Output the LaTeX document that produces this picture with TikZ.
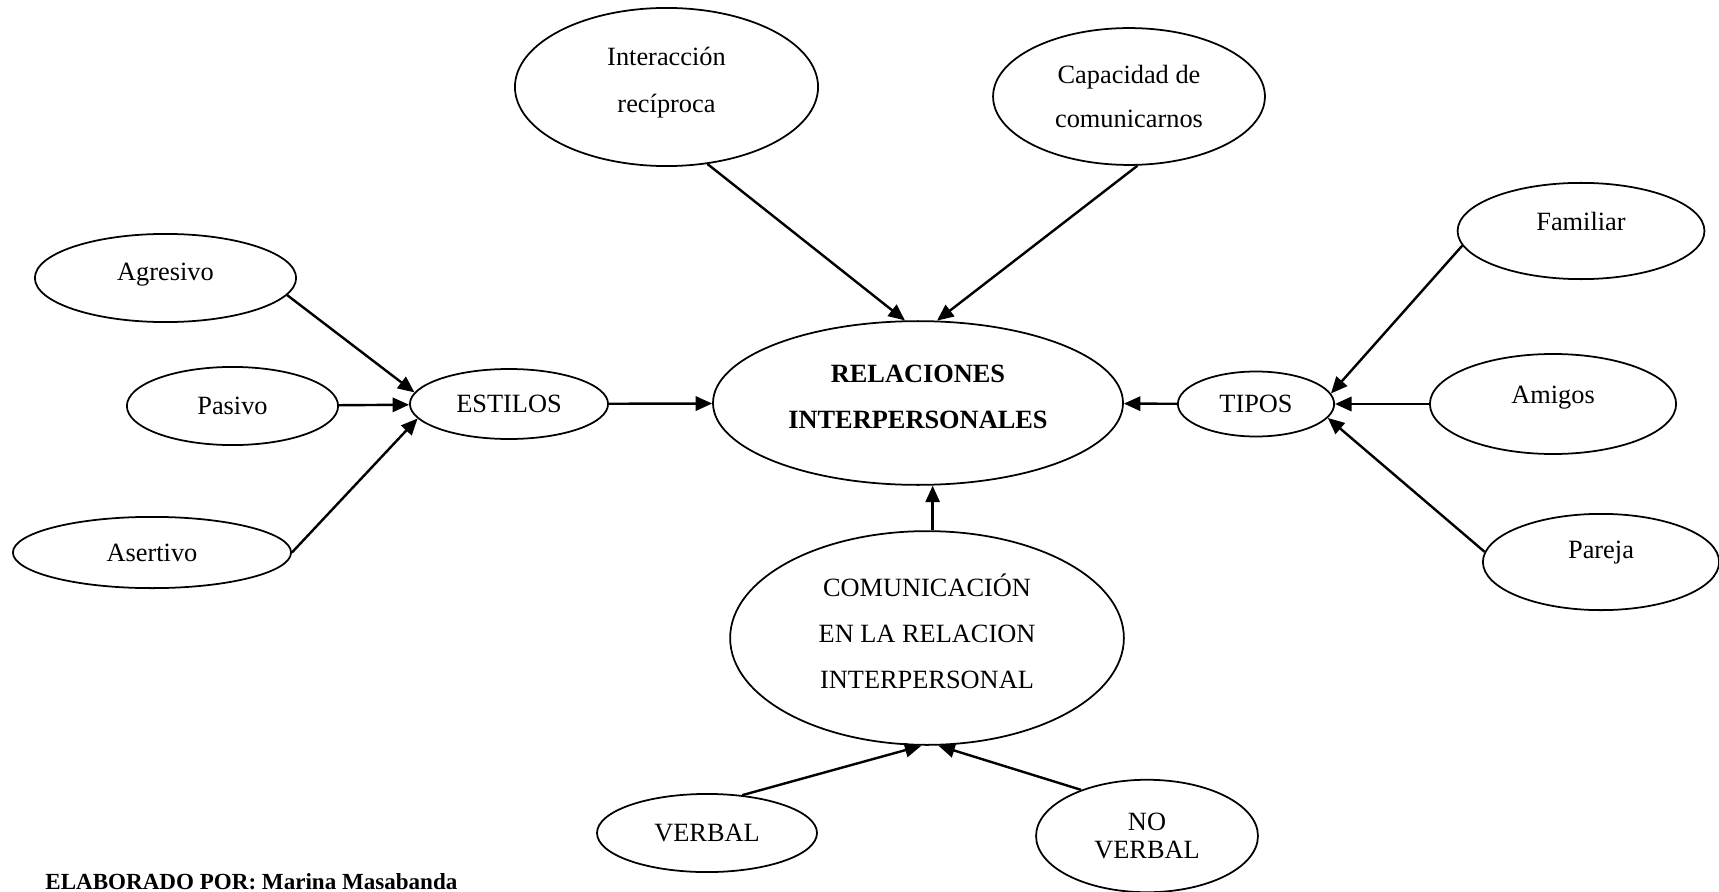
\documentclass[tikz,border=0pt]{standalone}
\usepackage{fontspec}
\setmainfont{Liberation Serif}
\usetikzlibrary{arrows.meta,shapes}
\tikzstyle{bubble}=[ellipse,draw,line width=0.8pt,inner sep=0pt,align=center,font=\fontsize{12}{19.6}\selectfont]
\tikzstyle{edge} = [draw,line width=1.1pt,-{Triangle[length=7.5pt,width=6.5pt]}]

\begin{document}
\begin{tikzpicture}[x=1.6cm,y=-1.6cm]
    \path[use as bounding box] (0,0) rectangle (17.19,8.92);

    % centre
    \node[bubble,minimum width=6.56cm,minimum height=2.62cm,font=\bfseries\fontsize{12}{21}\selectfont,text depth=5.5pt] (rel) at (9.18,4.03) {RELACIONES\\INTERPERSONALES};
    \node[bubble,minimum width=4.85cm,minimum height=2.53cm,font=\fontsize{12}{21.6}\selectfont,text depth=6.6pt] (int) at (6.665,0.87) {Interacción\\recíproca};
    \node[bubble,minimum width=4.35cm,minimum height=2.19cm] (cap) at (11.29,0.965) {Capacidad de\\comunicarnos};

    % estilos
    \node[bubble,minimum width=3.17cm,minimum height=1.12cm] (sty) at (5.09,4.04) {ESTILOS};
    \node[bubble,minimum width=4.18cm,minimum height=1.41cm,text depth=6pt] (agr) at (1.655,2.78) {Agresivo};
    \node[bubble,minimum width=3.38cm,minimum height=1.25cm] (pas) at (2.325,4.06) {Pasivo};
    \node[bubble,minimum width=4.45cm,minimum height=1.14cm] (ase) at (1.52,5.525) {Asertivo};

    % tipos
    \node[bubble,minimum width=2.50cm,minimum height=1.04cm] (tip) at (12.56,4.04) {TIPOS};
    \node[bubble,minimum width=3.95cm,minimum height=1.54cm,text depth=9pt] (fam) at (15.81,2.31) {Familiar};
    \node[bubble,minimum width=3.94cm,minimum height=1.60cm,text depth=8pt] (ami) at (15.53,4.04) {Amigos};
    \node[bubble,minimum width=3.78cm,minimum height=1.54cm,text depth=10.8pt] (par) at (16.01,5.62) {Pareja};

    % comunicacion
    \node[bubble,minimum width=6.30cm,minimum height=3.42cm,font=\fontsize{12}{21}\selectfont,text depth=6pt] (com) at (9.27,6.38) {COMUNICACIÓN\\EN LA RELACION\\INTERPERSONAL};
    \node[bubble,minimum width=3.52cm,minimum height=1.25cm] (ver) at (7.07,8.33) {VERBAL};
    \node[bubble,minimum width=3.55cm,minimum height=1.80cm,font=\fontsize{12}{13}\selectfont] (nov) at (11.47,8.36) {NO\\VERBAL};

    \node[anchor=base west,inner sep=0pt,font=\bfseries\fontsize{10.5}{12}\selectfont] (autor) at (0.45,8.89) {ELABORADO POR: Marina Masabanda};

    \path[edge] (agr.-8) -- (sty.173);
    \path[edge] (pas) -- (sty);
    \path[edge] (ase.east) -- (sty.189);
    \path[edge] (sty) -- (rel);
    \path[edge] (int.-62) -- (rel.99);
    \path[edge] (cap.-83) -- (rel.77);
    \path[edge] (tip) -- (rel);
    \path[edge] (fam.187) -- (tip.8);
    \path[edge] (ami) -- (tip);
    \path[edge] (par.175) -- (tip.-11);
    \path[edge] (com.87) -- (com.87 |- rel.south);
    \path[edge] (ver.47) -- (com.-93);
    \path[edge] (nov.145) -- (com.-84);
\end{tikzpicture}
\end{document}
